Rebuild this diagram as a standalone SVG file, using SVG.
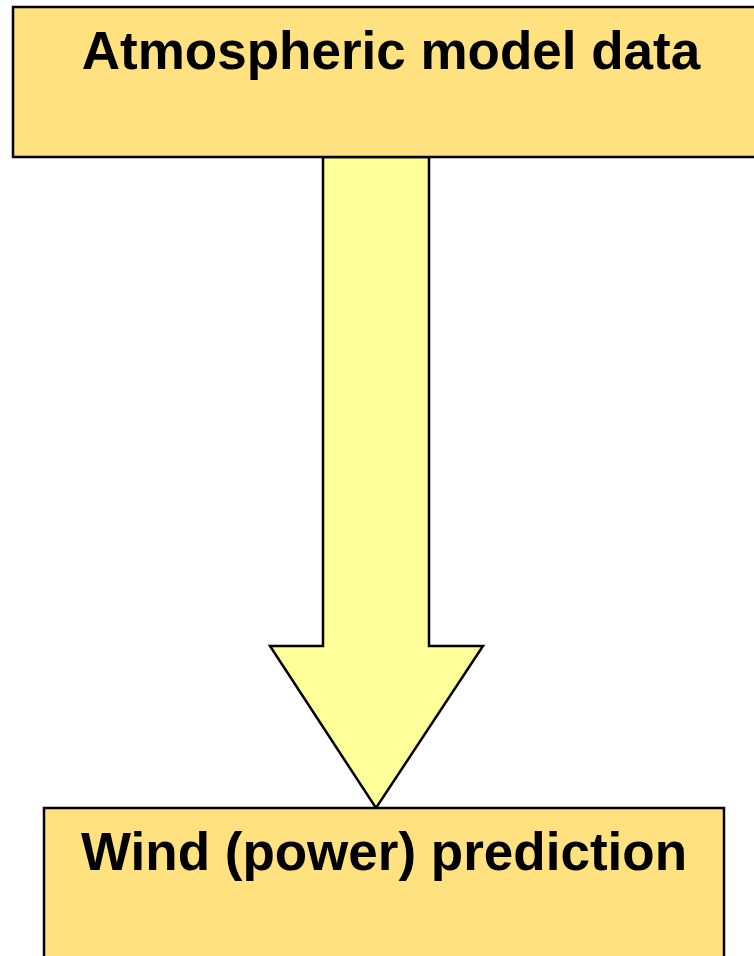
<svg xmlns="http://www.w3.org/2000/svg" width="754" height="956" viewBox="0 0 754 956">
<style>
.box{fill:#FFE17F;stroke:#000;stroke-width:2.5}
.arrow{fill:#FFFF99;stroke:#000;stroke-width:2.5;stroke-linejoin:miter}
.lbl{font-family:"Liberation Sans",Arial,sans-serif;font-weight:bold;font-size:53px;fill:#000;text-anchor:middle}
</style>
<rect width="754" height="956" fill="#fff"/>
<g id="connectors">
<path class="arrow" d="M323,157 L429,157 L429,646 L483,646 L376,808 L270,646 L323,646 Z"/>
</g>
<g id="node-atmospheric">
<rect class="box" x="13" y="7" width="770" height="150"/>
<text class="lbl" x="391" y="69">Atmospheric model data</text>
</g>
<g id="node-wind">
<rect class="box" x="44" y="808" width="680" height="170"/>
<text class="lbl" x="384" y="870">Wind (power) prediction</text>
</g>
</svg>
